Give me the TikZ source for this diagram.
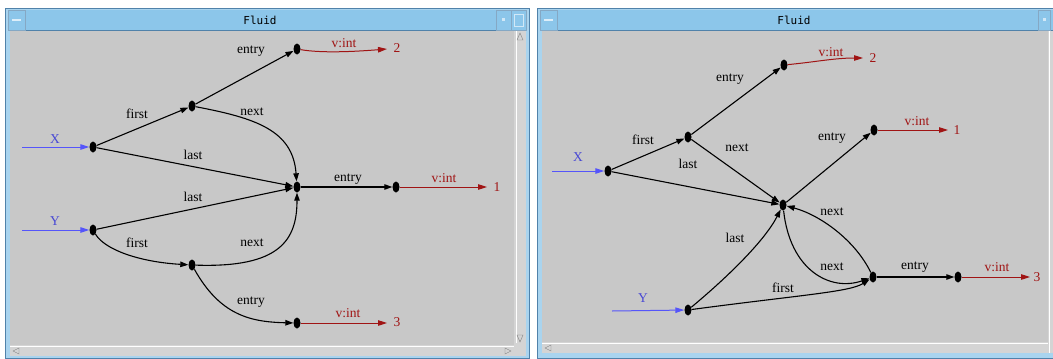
\documentclass[tikz,border=0pt]{standalone}
\usepackage{fontspec}
\setmainfont{Liberation Serif}
\newfontfamily\titlefont{DejaVu Sans Mono}
\usetikzlibrary{arrows.meta,shapes.geometric}
\definecolor{canvas}{RGB}{200,200,200}
\definecolor{tbar}{RGB}{140,198,234}
\definecolor{tbord}{RGB}{80,130,170}
\definecolor{dred}{RGB}{160,20,20}
\definecolor{lblue}{RGB}{85,85,250}
\definecolor{sbar}{RGB}{212,212,212}
\begin{document}
\begin{tikzpicture}[x=1pt,y=-1pt,
  dot/.style={ellipse,fill=black,inner sep=0pt,minimum width=7pt,minimum height=11pt},
  edge/.style={draw=black,line width=1.1pt,-{Triangle[length=8pt,width=5.5pt]}},
  redge/.style={draw=dred,line width=1pt,-{Triangle[length=9pt,width=5.5pt]}},
  bedge/.style={draw=lblue,line width=1pt,-{Triangle[length=9pt,width=5.5pt]}},
  lbl/.style={font=\fontsize{13.5}{13.5}\selectfont,inner sep=0pt},
  rlbl/.style={lbl,text=dred},
  blbl/.style={lbl,text=lblue!85!black},
  ttl/.style={font=\titlefont\fontsize{11}{11}\selectfont,inner sep=0pt},
]
\useasboundingbox (0,0) rectangle (1053,359);
\fill[white] (0,0) rectangle (1053,359);

% ---------- left window frame ----------
\fill[tbar!75!white] (5,8) rectangle (529,358);
\draw[tbord] (5,8) rectangle (529,358);
\fill[tbar] (8,10) rectangle (526,30);
\draw[tbord] (8,30.5) -- (526,30.5);
\draw[tbord!70] (8,10) rectangle (25,30);
\fill[white!70!tbar] (12,19) rectangle (21,21);
\draw[tbord!70] (496,10) rectangle (511,30);
\fill[white!60!tbar] (502,18) rectangle (505,21);
\draw[tbord!70] (511,10) rectangle (526,30);
\draw[white!60!tbar] (514,14) rectangle (523,26);
\fill[canvas] (10,31) rectangle (514,345);
\fill[sbar] (514,31) rectangle (526,356);
\draw[white] (516,31) -- (516,343);
\fill[sbar] (10,345) rectangle (514,356);
\draw[white] (10,346.5) -- (514,346.5);
\draw[gray] (517,40) -- (520,33) -- (523,40) -- cycle;
\draw[gray] (517,335) -- (520,342) -- (523,335) -- cycle;
\draw[gray] (19,348) -- (13,351) -- (19,354) -- cycle;
\draw[gray] (505,348) -- (511,351) -- (505,354) -- cycle;
\node[ttl] (t1) at (260,20) {Fluid};

% ---------- right window frame ----------
\fill[tbar!75!white] (537,8) rectangle (1058,358);
\draw[tbord] (537,8) rectangle (1058,358);
\fill[tbar] (540,10) rectangle (1058,30);
\draw[tbord] (540,30.5) -- (1058,30.5);
\draw[tbord!70] (540,10) rectangle (557,30);
\fill[white!70!tbar] (544,19) rectangle (553,21);
\draw[tbord!70] (1038,10) rectangle (1050,30);
\fill[white!60!tbar] (1043,18) rectangle (1046,21);
\fill[canvas] (542,31) rectangle (1048,342);
\fill[sbar] (1048,31) rectangle (1058,353);
\draw[white] (1049.5,31) -- (1049.5,353);
\fill[sbar] (542,342) rectangle (1048,353);
\draw[white] (542,343.5) -- (1048,343.5);
\draw[gray] (551,345) -- (545,348) -- (551,351) -- cycle;
\node[ttl] (t2) at (794,20) {Fluid};

% ---------- left graph ----------
\node[dot] (lx) at (93,147) {};
\node[dot] (lf1) at (192,106) {};
\node[dot] (le2) at (297,49) {};
\node[dot] (lc) at (297,187) {};
\node[dot] (le1) at (396,187) {};
\node[dot] (ly) at (93,230) {};
\node[dot] (lf2) at (192,265) {};
\node[dot] (le3) at (297,323) {};
\coordinate (lxin) at (22,147);
\coordinate (lyin) at (22,230);
\coordinate (lo2) at (387,49);
\coordinate (lo1) at (487,187);
\coordinate (lo3) at (387,323);

\draw[bedge] (lxin) -- (lx);
\draw[bedge] (lyin) -- (ly);
\draw[edge] (lx) -- (lf1);
\draw[edge] (lf1) -- (le2);
\draw[redge] (le2) .. controls (320,53) and (350,52) .. (lo2);
\draw[edge] (lf1) .. controls (255,118) and (293,130) .. (lc);
\draw[edge] (lx) -- (lc);
\draw[edge] (ly) -- (lc);
\draw[edge] (lc) -- (le1);
\draw[redge] (le1) -- (lo1);
\draw[edge] (ly) .. controls (105,250) and (140,262) .. (lf2);
\draw[edge] (lf2) .. controls (280,268) and (297,240) .. (lc);
\draw[edge] (lf2) .. controls (220,315) and (250,322) .. (le3);
\draw[redge] (le3) -- (lo3);

\node[blbl] (llx) at (55,139) {X};
\node[blbl] (lly) at (55,221) {Y};
\node[lbl] (ll1) at (137,114) {first};
\node[lbl] (ll2) at (251,51) {entry};
\node[lbl] (ll3) at (252,112) {next};
\node[lbl] (ll4) at (193,155) {last};
\node[lbl] (ll5) at (348,179) {entry};
\node[lbl] (ll6) at (193,197) {last};
\node[lbl] (ll7) at (137,243) {first};
\node[lbl] (ll8) at (252,243) {next};
\node[lbl] (ll9) at (251,302) {entry};
\node[rlbl] (lr1) at (344,43) {v:int};
\node[rlbl] (lr2) at (397,48) {2};
\node[rlbl] (lr3) at (444,178) {v:int};
\node[rlbl] (lr4) at (497,187) {1};
\node[rlbl] (lr5) at (348,313) {v:int};
\node[rlbl] (lr6) at (397,322) {3};

% ---------- right graph ----------
\node[dot] (rx) at (608,171) {};
\node[dot] (rf) at (688,137) {};
\node[dot] (re2) at (784,65) {};
\node[dot] (rc) at (783,205) {};
\node[dot] (re1) at (874,130) {};
\node[dot] (ry) at (688,310) {};
\node[dot] (rr) at (873,277) {};
\node[dot] (re3) at (958,277) {};
\coordinate (rxin) at (552,171);
\coordinate (ryin) at (612,311);
\coordinate (ro2) at (863,58);
\coordinate (ro1) at (948,130);
\coordinate (ro3) at (1030,277);

\draw[bedge] (rxin) -- (rx);
\draw[bedge] (ryin) -- (ry);
\draw[edge] (rx) -- (rf);
\draw[edge] (rf) -- (re2);
\draw[redge] (re2) .. controls (815,62) and (835,58) .. (ro2);
\draw[edge] (rf) -- (rc);
\draw[edge] (rx) -- (rc);
\draw[edge] (rc) -- (re1);
\draw[redge] (re1) -- (ro1);
\draw[edge] (ry) .. controls (730,275) and (765,240) .. (rc);
\draw[edge] (rr) .. controls (855,240) and (820,215) .. (rc);
\draw[edge] (rc) .. controls (790,270) and (830,292) .. (rr);
\draw[edge] (ry) .. controls (800,295) and (850,292) .. (rr);
\draw[edge] (rr) -- (re3);
\draw[redge] (re3) -- (ro3);

\node[blbl] (rlx) at (578,157) {X};
\node[blbl] (rly) at (643,298) {Y};
\node[lbl] (rl1) at (643,140) {first};
\node[lbl] (rl2) at (730,79) {entry};
\node[lbl] (rl3) at (737,148) {next};
\node[lbl] (rl4) at (688,164) {last};
\node[lbl] (rl5) at (832,138) {entry};
\node[lbl] (rl6) at (832,212) {next};
\node[lbl] (rl7) at (735,238) {last};
\node[lbl] (rl8) at (832,267) {next};
\node[lbl] (rl9) at (783,288) {first};
\node[lbl] (rl10) at (915,267) {entry};
\node[rlbl] (rr1) at (831,52) {v:int};
\node[rlbl] (rr2) at (873,58) {2};
\node[rlbl] (rr3) at (917,121) {v:int};
\node[rlbl] (rr4) at (957,130) {1};
\node[rlbl] (rr5) at (997,267) {v:int};
\node[rlbl] (rr6) at (1037,277) {3};
\end{tikzpicture}
\end{document}
